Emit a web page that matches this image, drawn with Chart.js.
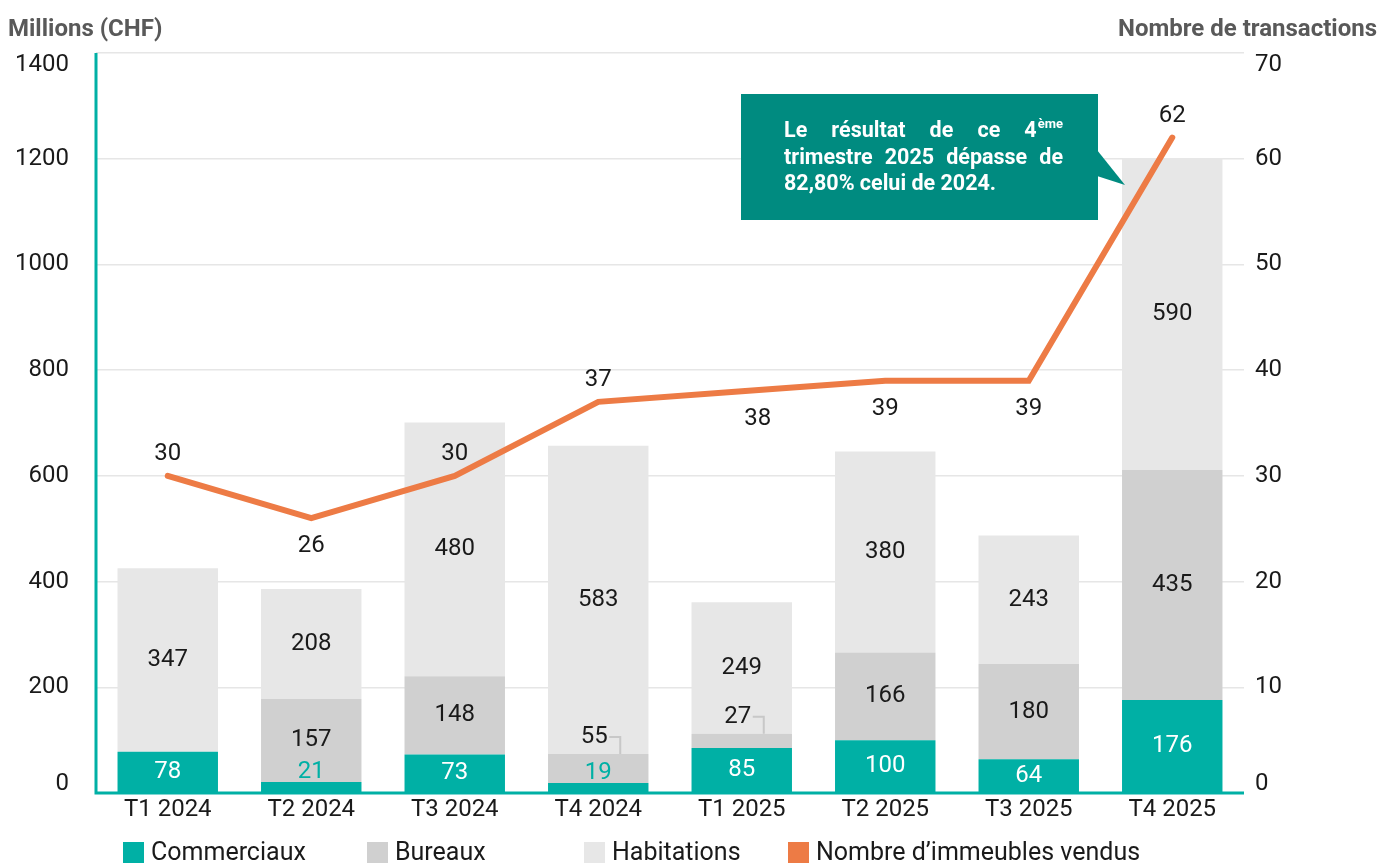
<!DOCTYPE html>
<html lang="fr">
<head>
<meta charset="utf-8">
<title>Transactions immobilières</title>
<script src="https://cdn.jsdelivr.net/npm/chart.js@4.4.1/dist/chart.umd.min.js"></script>
<style>
    html, body { margin: 0; padding: 0; background: #fff; overflow: hidden; }
    #wrap { position: relative; width: 1381px; height: 865px; }
    #legend { position: absolute; left: 0; top: 0; width: 100%; height: 100%; pointer-events: none; }
    .leg-item { position: absolute; top: 842px; height: 21px; font-family: Roboto, sans-serif; font-size: 25px; color: #1a1a1a; white-space: nowrap; }
    .leg-box { position: absolute; left: 0; top: 0; width: 21px; height: 21px; }
    .leg-text { position: absolute; left: 28px; top: -5px; line-height: 30px; }
</style>
</head>
<body>
<div id="wrap">
    <canvas id="chart" width="1381" height="865"></canvas>
    <div id="legend"></div>
</div>
<script>
// Chart data
const quarters = ['T1 2024', 'T2 2024', 'T3 2024', 'T4 2024', 'T1 2025', 'T2 2025', 'T3 2025', 'T4 2025'];
const commerciaux = [78, 21, 73, 19, 85, 100, 64, 176];
const bureaux = [0, 157, 148, 55, 27, 166, 180, 435];
const habitations = [347, 208, 480, 583, 249, 380, 243, 590];
const immeublesVendus = [30, 26, 30, 37, 38, 39, 39, 62];

const leftMax = 1400;
const leftStep = 200;
const rightMax = 70;
const rightStep = 10;

const leftTitle = 'Millions (CHF)';
const rightTitle = 'Nombre de transactions';
const calloutLines = ['Le résultat de ce 4', 'trimestre 2025 dépasse de', '82,80% celui de 2024.'];
const calloutSup = 'ème';

// Colours
const TEAL = '#00B0A5';
const GREY_MID = '#D0D0D0';
const GREY_LIGHT = '#E7E7E7';
const ORANGE = '#ED7B45';
const CALLOUT = '#008B80';
const TEXT = '#1a1a1a';
const FONT = 'Roboto, sans-serif';

// Labels drawn on top of bars and line
const valueLabels = {
    id: 'valueLabels',
    afterDatasetsDraw(chart) {
        const ctx = chart.ctx;
        ctx.save();
        ctx.font = '24px ' + FONT;
        ctx.textAlign = 'center';
        ctx.textBaseline = 'middle';

        // commerciaux
        chart.getDatasetMeta(1).data.forEach((bar, i) => {
            const h = bar.base - bar.y;
            if (h < 25) {
                ctx.fillStyle = TEAL;
                ctx.fillText(commerciaux[i], bar.x, bar.y - 10);
            } else {
                ctx.fillStyle = '#fff';
                ctx.fillText(commerciaux[i], bar.x, (bar.y + bar.base) / 2);
            }
        });

        // bureaux
        chart.getDatasetMeta(2).data.forEach((bar, i) => {
            if (!bureaux[i]) return;
            const h = bar.base - bar.y;
            ctx.fillStyle = TEXT;
            if (h < 30) {
                const ty = bar.y - 17;
                ctx.fillText(bureaux[i], bar.x - 4, ty);
                ctx.strokeStyle = '#c8c8c8';
                ctx.lineWidth = 2;
                ctx.beginPath();
                ctx.moveTo(bar.x + 11, ty);
                ctx.lineTo(bar.x + 22, ty);
                ctx.lineTo(bar.x + 22, bar.y);
                ctx.stroke();
            } else {
                ctx.fillText(bureaux[i], bar.x, (bar.y + bar.base) / 2);
            }
        });

        // habitations
        chart.getDatasetMeta(3).data.forEach((bar, i) => {
            ctx.fillStyle = TEXT;
            ctx.fillText(habitations[i], bar.x, (bar.y + bar.base) / 2);
        });

        // line labels
        const below = [false, true, false, false, true, true, true, false];
        chart.getDatasetMeta(0).data.forEach((pt, i) => {
            ctx.fillStyle = TEXT;
            const dx = i === 4 ? 16 : 0;
            ctx.fillText(immeublesVendus[i], pt.x + dx, below[i] ? pt.y + 28 : pt.y - 22);
        });
        ctx.restore();
    },
    afterDraw(chart) {
        const ctx = chart.ctx;
        const area = chart.chartArea;
        ctx.save();

        // y tick labels (end labels pulled inward, as in the source)
        ctx.font = '24px ' + FONT;
        ctx.fillStyle = TEXT;
        ctx.textBaseline = 'middle';
        const nudge = (v, max) => (v === 0 ? -9 : (v === max ? 12 : 0));
        const ys = chart.scales.y;
        ctx.textAlign = 'right';
        ys.ticks.forEach(t => {
            ctx.fillText(String(t.value), area.left - 27, ys.getPixelForValue(t.value) + nudge(t.value, leftMax));
        });
        const y1s = chart.scales.y1;
        ctx.textAlign = 'left';
        y1s.ticks.forEach(t => {
            ctx.fillText(String(t.value), area.right + 11, y1s.getPixelForValue(t.value) + nudge(t.value, rightMax));
        });

        // axis titles
        ctx.font = '700 24px ' + FONT;
        ctx.fillStyle = '#595959';
        ctx.textBaseline = 'alphabetic';
        ctx.textAlign = 'left';
        ctx.fillText(leftTitle, 8, 36);
        ctx.textAlign = 'right';
        ctx.fillText(rightTitle, 1377, 36);

        // teal axis lines
        ctx.strokeStyle = TEAL;
        ctx.lineWidth = 3;
        ctx.beginPath();
        ctx.moveTo(area.left, area.top);
        ctx.lineTo(area.left, area.bottom);
        ctx.lineTo(area.right, area.bottom);
        ctx.stroke();

        // callout
        const bx = 741, by = 94, bw = 357, bh = 126;
        ctx.fillStyle = CALLOUT;
        ctx.fillRect(bx, by, bw, bh);
        ctx.beginPath();
        ctx.moveTo(bx + bw - 1, 150);
        ctx.lineTo(1125, 185);
        ctx.lineTo(bx + bw - 1, 176);
        ctx.closePath();
        ctx.fill();

        ctx.fillStyle = '#fff';
        ctx.textAlign = 'left';
        const textLeft = 784, textRight = 1063;
        const lineY = [137, 164, 190];
        const bodyFont = '700 21.5px ' + FONT;
        const supFont = '700 13px ' + FONT;
        calloutLines.forEach((line, li) => {
            ctx.font = bodyFont;
            const words = line.split(' ');
            if (li === calloutLines.length - 1) {
                ctx.fillText(line, textLeft, lineY[li]);
                return;
            }
            const widths = words.map(w => ctx.measureText(w).width);
            let extra = 0;
            if (li === 0) {
                ctx.font = supFont;
                extra = ctx.measureText(calloutSup).width + 1;
                ctx.font = bodyFont;
            }
            const total = widths.reduce((a, b) => a + b, 0) + extra;
            const gap = (textRight - textLeft - total) / (words.length - 1);
            let x = textLeft;
            words.forEach((w, wi) => {
                ctx.fillText(w, x, lineY[li]);
                x += widths[wi];
                if (wi < words.length - 1) x += gap;
            });
            if (li === 0) {
                ctx.font = supFont;
                ctx.fillText(calloutSup, x + 1, lineY[li] - 9);
            }
        });
        ctx.restore();
    }
};

const ctx = document.getElementById('chart').getContext('2d');
const chart = new Chart(ctx, {
    data: {
        labels: quarters,
        datasets: [
            {
                type: 'line',
                label: 'Nombre d\u2019immeubles vendus',
                data: immeublesVendus,
                yAxisID: 'y1',
                borderColor: ORANGE,
                backgroundColor: ORANGE,
                borderWidth: 6,
                borderCapStyle: 'round',
                pointRadius: 0,
                tension: 0,
                order: 0
            },
            {
                type: 'bar',
                label: 'Commerciaux',
                data: commerciaux,
                backgroundColor: TEAL,
                yAxisID: 'y',
                stack: 'immo',
                order: 1
            },
            {
                type: 'bar',
                label: 'Bureaux',
                data: bureaux,
                backgroundColor: GREY_MID,
                yAxisID: 'y',
                stack: 'immo',
                order: 1
            },
            {
                type: 'bar',
                label: 'Habitations',
                data: habitations,
                backgroundColor: GREY_LIGHT,
                yAxisID: 'y',
                stack: 'immo',
                order: 1
            }
        ]
    },
    options: {
        responsive: false,
        animation: false,
        barPercentage: 0.7,
        categoryPercentage: 1,
        layout: { padding: { top: 53, bottom: 32, left: 0, right: 0 } },
        plugins: {
            legend: { display: false },
            tooltip: { enabled: false }
        },
        scales: {
            x: {
                stacked: true,
                grid: { display: false, drawTicks: false },
                border: { display: false },
                ticks: { color: TEXT, font: { family: FONT, size: 24 }, padding: 3, maxRotation: 0 },
                afterFit(scale) { scale.height = 40; }
            },
            y: {
                stacked: true,
                position: 'left',
                min: 0,
                max: leftMax,
                grid: { color: '#e6e6e6', lineWidth: 1.5, drawTicks: false },
                border: { display: false },
                ticks: { stepSize: leftStep, display: false },
                afterFit(scale) { scale.width = 96; }
            },
            y1: {
                position: 'right',
                min: 0,
                max: rightMax,
                grid: { display: false, drawTicks: false },
                border: { display: false },
                ticks: { stepSize: rightStep, display: false },
                afterFit(scale) { scale.width = 137; }
            }
        }
    },
    plugins: [valueLabels]
});

// HTML legend
const legendItems = [
    { label: 'Commerciaux', color: TEAL, left: 123 },
    { label: 'Bureaux', color: GREY_MID, left: 367 },
    { label: 'Habitations', color: GREY_LIGHT, left: 584 },
    { label: 'Nombre d\u2019immeubles vendus', color: ORANGE, left: 788 }
];
const legendEl = document.getElementById('legend');
legendItems.forEach(item => {
    const div = document.createElement('div');
    div.className = 'leg-item';
    div.style.left = item.left + 'px';
    div.innerHTML = '<span class="leg-box" style="background:' + item.color + '"></span><span class="leg-text">' + item.label + '</span>';
    legendEl.appendChild(div);
});
</script>
</body>
</html>
